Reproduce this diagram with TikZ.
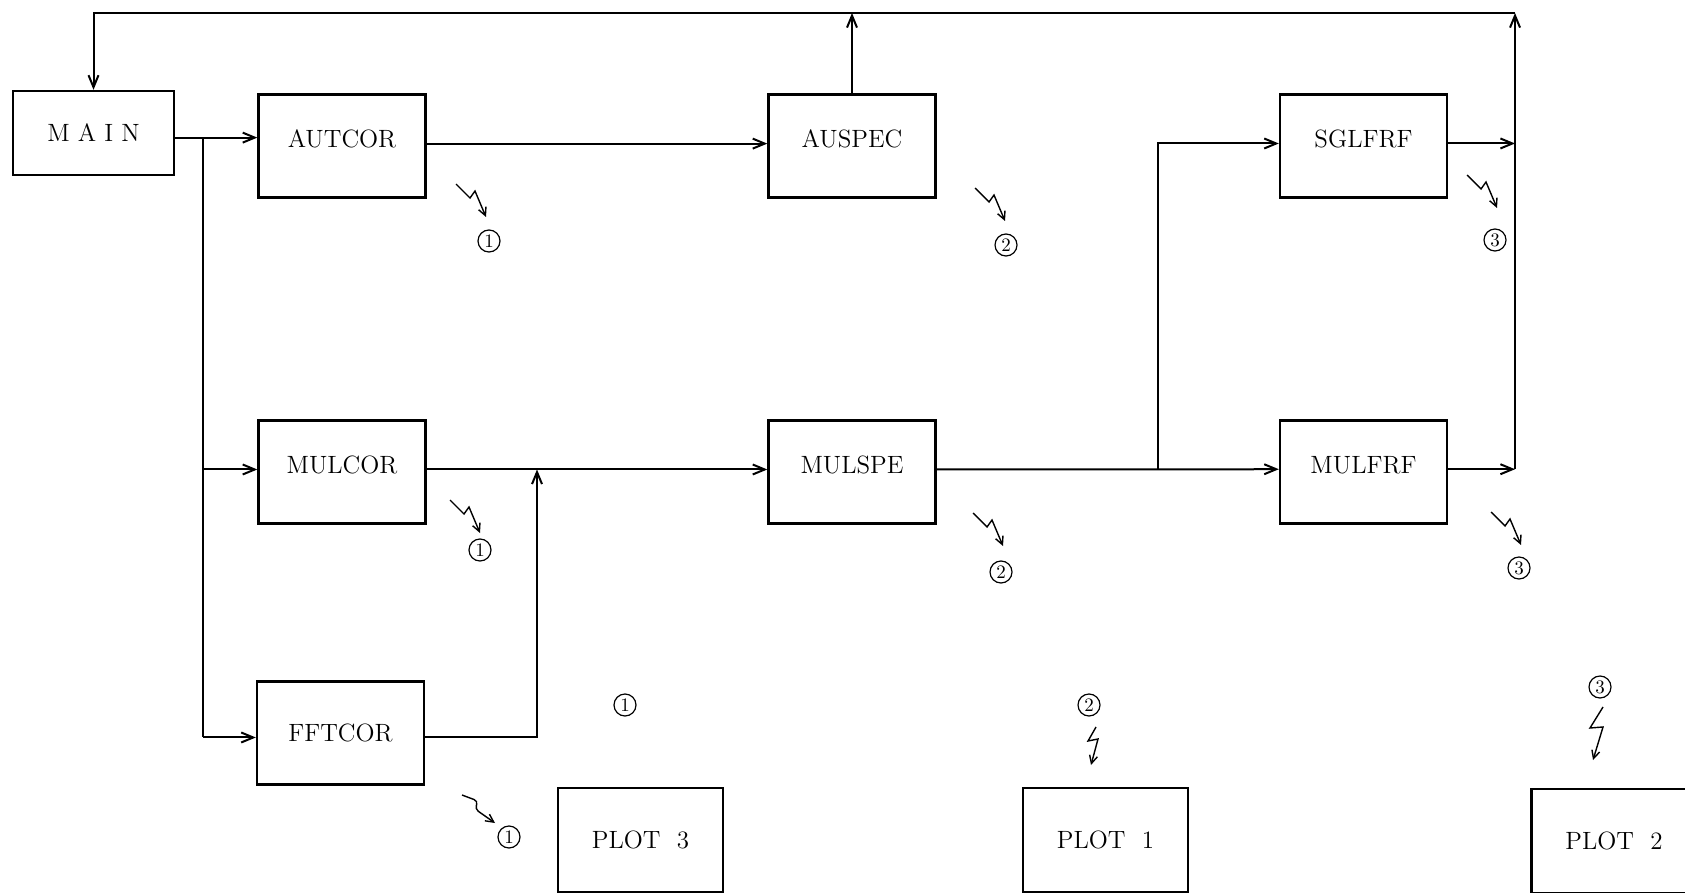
\documentclass[tikz,border=0pt]{standalone}
\usepackage{fontspec}
\usetikzlibrary{arrows.meta}

\newcommand{\boxfont}{\fontsize{12.5}{14}\selectfont}

\tikzset{
  prog/.style={draw, line width=1.2pt, minimum width=83.5pt, minimum height=51.5pt,
    text depth=7pt, font=\boxfont},
  mainbox/.style={draw, line width=1.2pt, minimum width=80.5pt, minimum height=42pt,
    font=\boxfont},
  plotbox/.style={draw, line width=1.2pt, minimum width=82.5pt, minimum height=52pt,
    font=\boxfont},
  tag/.style={circle, draw, line width=0.6pt, inner sep=0pt, minimum size=11pt,
    font=\fontsize{9.5}{10}\selectfont},
  zapline/.style={line width=0.7pt, -{Straight Barb[length=4pt,width=4pt]}},
  spark/.pic={\draw[zapline] (0,0) -- ++(14,14) -- ++(5,-7) -- ++(11,26);},
}

\begin{document}
\begin{tikzpicture}[x=0.5pt,y=-0.5pt,line width=1pt,
    >={Straight Barb[length=6pt,width=5pt]}]
  \useasboundingbox (0,0) rectangle (1685,893);
  \clip (0,0) rectangle (1685,893);

  % program blocks
  \node[mainbox] (main) at (93.5,133) {M A I N};
  \node[prog] (autcor) at (342,146) {AUTCOR};
  \node[prog] (auspec) at (852,146) {AUSPEC};
  \node[prog] (sglfrf) at (1363.5,146) {SGLFRF};
  \node[prog] (mulcor) at (342,472) {MULCOR};
  \node[prog] (mulspe) at (852,472) {MULSPE};
  \node[prog] (mulfrf) at (1363.5,472) {MULFRF};
  \node[prog,text depth=0pt] (fftcor) at (340.5,733) {FFTCOR};
  \node[plotbox] (plot3) at (640.5,840) {PLOT~~3};
  \node[plotbox] (plot1) at (1105.5,840) {PLOT~~1};
  \node[plotbox] (plot2) at (1614,841) {PLOT~~2};

  % helper points
  \coordinate (bus) at (203,0);
  \coordinate (join) at (537,0);
  \coordinate (fork) at (1158,0);
  \coordinate (top) at (1515,13);

  % calls
  \draw[->] (main.mid east) -- (main.mid east -| autcor.west);
  \draw (main.mid east -| bus) -- (fftcor.mid west -| bus);
  \draw[->] (mulcor.mid west -| bus) -- (mulcor.mid west);
  \draw[->] (fftcor.mid west -| bus) -- (fftcor.mid west);
  \draw[->] (autcor.mid east) -- (auspec.mid west);
  \draw[->] (mulcor.mid east) -- (mulspe.mid west);
  \draw[->] (fftcor.mid east) -| (join |- mulcor.mid east);
  \draw[->] (mulspe.mid east) -- (mulfrf.mid west);
  \draw[->] (mulspe.mid east -| fork) |- (sglfrf.mid west);
  \draw[->] (sglfrf.mid east) -- (sglfrf.mid east -| top);
  \draw[->] (mulfrf.mid east) -- (mulfrf.mid east -| top);
  \draw[->] (mulfrf.mid east -| top) -- (top);
  \draw[->] (top) -| (main.north);
  \draw[->] (auspec.north) -- (auspec.north |- top);

  % plot links
  \pic at (456,184) {spark};
  \node[tag] (t1a) at (489,241) {1};
  \pic at (975,188) {spark};
  \node[tag] (t2a) at (1006,245) {2};
  \pic at (1467,175) {spark};
  \node[tag] (t3a) at (1495,240) {3};
  \pic at (450,500) {spark};
  \node[tag] (t1b) at (480,550) {1};
  \pic at (973,513) {spark};
  \node[tag] (t2b) at (1001,572) {2};
  \pic at (1491,512) {spark};
  \node[tag] (t3b) at (1519,568) {3};
  \draw[zapline,rounded corners=2pt] (462,795) -- (478,801) -- (475,809) -- (495,823);
  \node[tag] (t1c) at (509,837) {1};
  \node[tag] (t1d) at (625,705) {1};
  \node[tag] (t2c) at (1089,705) {2};
  \draw[zapline] (1096,727) -- (1088,741) -- (1098,739) -- (1091,765);
  \node[tag] (t3c) at (1600,687) {3};
  \draw[zapline] (1603,707) -- (1590,728) -- (1603,727) -- (1593,760);
\end{tikzpicture}
\end{document}
